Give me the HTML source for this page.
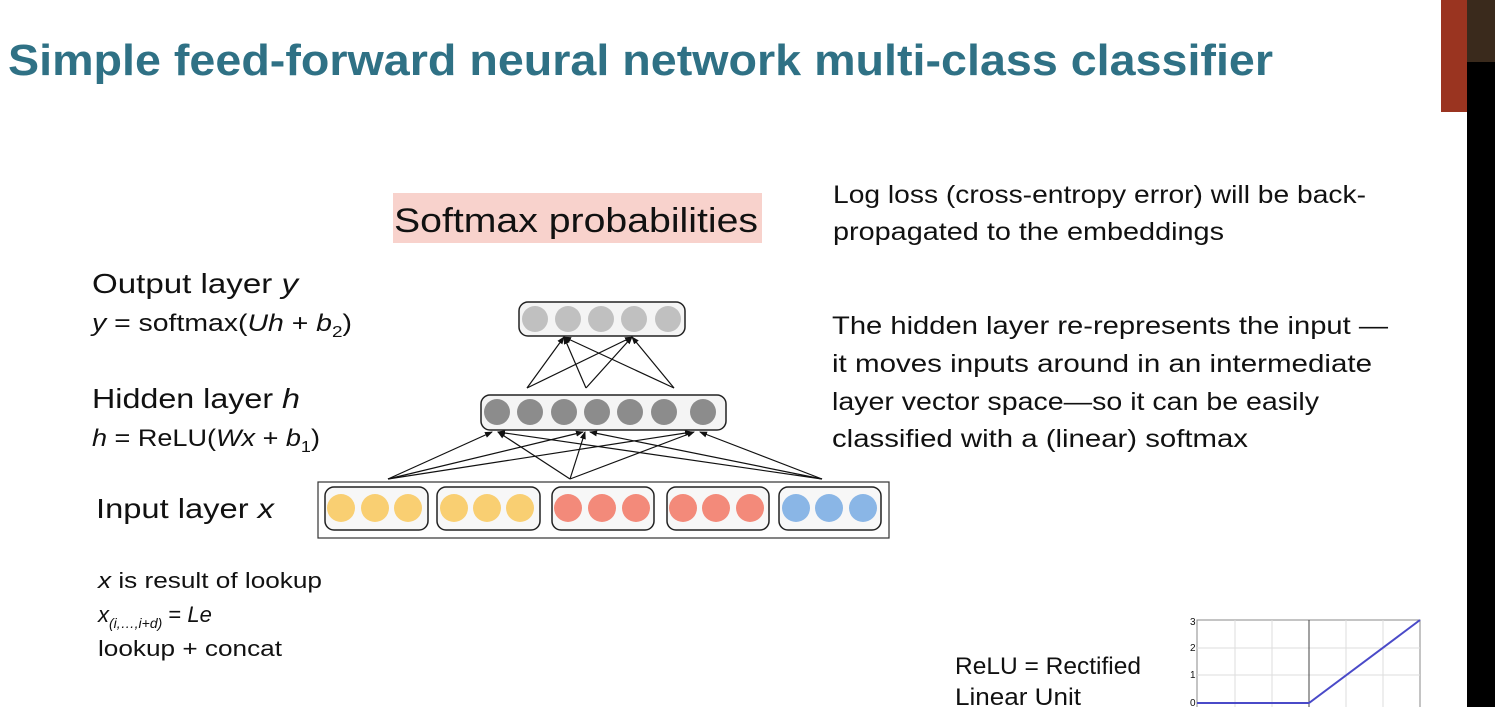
<!DOCTYPE html>
<html><head><meta charset="utf-8"><style>
html,body{margin:0;padding:0;background:#fff;width:1495px;height:707px;overflow:hidden}
svg{display:block}
text{font-family:"Liberation Sans","DejaVu Sans",sans-serif;fill:#111}
</style></head><body>
<svg width="1495" height="707" viewBox="0 0 1495 707" xmlns="http://www.w3.org/2000/svg">
<defs>
<marker id="ah" markerWidth="8" markerHeight="8" refX="7" refY="4" orient="auto" markerUnits="userSpaceOnUse">
<path d="M0,1 L8,4 L0,7 Z" fill="#111"/></marker>
</defs>
<rect x="1441" y="0" width="26" height="112" fill="#9a3420"/>
<rect x="1467" y="0" width="28" height="707" fill="#000"/>
<rect x="1467" y="0" width="28" height="62" fill="#3a2a1c"/>

<text x="8" y="75" font-size="44" font-weight="bold" style="fill:#2f7185" textLength="1265" lengthAdjust="spacingAndGlyphs">Simple feed-forward neural network multi-class classifier</text>

<rect x="393" y="193" width="369" height="50" fill="#f8d2cc"/>
<text x="394" y="232" font-size="34" textLength="364" lengthAdjust="spacingAndGlyphs">Softmax probabilities</text>

<g font-size="25">
<text x="833" y="203" textLength="533" lengthAdjust="spacingAndGlyphs">Log loss (cross-entropy error) will be back-</text>
<text x="833" y="240" textLength="391" lengthAdjust="spacingAndGlyphs">propagated to the embeddings</text>
<text x="832" y="334" textLength="556" lengthAdjust="spacingAndGlyphs">The hidden layer re-represents the input —</text>
<text x="832" y="372" textLength="540" lengthAdjust="spacingAndGlyphs">it moves inputs around in an intermediate</text>
<text x="832" y="410" textLength="487" lengthAdjust="spacingAndGlyphs">layer vector space—so it can be easily</text>
<text x="832" y="447" textLength="416" lengthAdjust="spacingAndGlyphs">classified with a (linear) softmax</text>
</g>

<text x="92" y="293" font-size="28" textLength="206" lengthAdjust="spacingAndGlyphs">Output layer <tspan font-style="italic">y</tspan></text>
<text x="92" y="331" font-size="24" textLength="260" lengthAdjust="spacingAndGlyphs"><tspan font-style="italic">y</tspan> = softmax(<tspan font-style="italic">Uh</tspan> + <tspan font-style="italic">b</tspan><tspan font-size="16" dy="6">2</tspan><tspan dy="-6">)</tspan></text>
<text x="92" y="408" font-size="28" textLength="208" lengthAdjust="spacingAndGlyphs">Hidden layer <tspan font-style="italic">h</tspan></text>
<text x="92" y="446" font-size="24" textLength="228" lengthAdjust="spacingAndGlyphs"><tspan font-style="italic">h</tspan> = ReLU(<tspan font-style="italic">Wx</tspan> + <tspan font-style="italic">b</tspan><tspan font-size="16" dy="6">1</tspan><tspan dy="-6">)</tspan></text>
<text x="96" y="518" font-size="28" textLength="178" lengthAdjust="spacingAndGlyphs">Input layer <tspan font-style="italic">x</tspan></text>

<text x="98" y="588" font-size="22" textLength="224" lengthAdjust="spacingAndGlyphs"><tspan font-style="italic">x</tspan> is result of lookup</text>
<text x="98" y="622" font-size="22"><tspan font-style="italic">x</tspan><tspan font-size="14" font-style="italic" dy="6">(i,…,i+d)</tspan><tspan dy="-6"> = </tspan><tspan font-style="italic">Le</tspan></text>
<text x="98" y="656" font-size="22" textLength="184" lengthAdjust="spacingAndGlyphs">lookup + concat</text>

<text x="955" y="674" font-size="24" textLength="186" lengthAdjust="spacingAndGlyphs">ReLU = Rectified</text>
<text x="955" y="705" font-size="24" textLength="126" lengthAdjust="spacingAndGlyphs">Linear Unit</text>

<g>
<rect x="1197" y="620" width="223" height="100" fill="#fff" stroke="#888" stroke-width="1"/>
<g stroke="#ddd" stroke-width="1">
<line x1="1197" y1="648" x2="1420" y2="648"/><line x1="1197" y1="675" x2="1420" y2="675"/>
<line x1="1235" y1="620" x2="1235" y2="707"/><line x1="1272" y1="620" x2="1272" y2="707"/>
<line x1="1346" y1="620" x2="1346" y2="707"/><line x1="1383" y1="620" x2="1383" y2="707"/>
</g>
<line x1="1309" y1="620" x2="1309" y2="707" stroke="#444" stroke-width="1"/>
<polyline points="1197,703 1309,703 1420,620" fill="none" stroke="#4a4ac8" stroke-width="2"/>
<g font-size="10" font-family="Liberation Serif,serif">
<text x="1190" y="625">3</text><text x="1190" y="651">2</text><text x="1190" y="678">1</text><text x="1190" y="706">0</text>
</g>
</g>

<g stroke="#111" stroke-width="1.2" marker-end="url(#ah)">
<line x1="527" y1="388" x2="564" y2="337"/><line x1="527" y1="388" x2="632" y2="337"/>
<line x1="586" y1="388" x2="564" y2="337"/><line x1="586" y1="388" x2="632" y2="337"/>
<line x1="674" y1="388" x2="564" y2="337"/><line x1="674" y1="388" x2="632" y2="337"/>
<line x1="388" y1="479" x2="492" y2="432"/><line x1="388" y1="479" x2="583" y2="432"/><line x1="388" y1="479" x2="692" y2="432"/>
<line x1="570" y1="479" x2="498" y2="432"/><line x1="570" y1="479" x2="585" y2="432"/><line x1="570" y1="479" x2="694" y2="432"/>
<line x1="822" y1="479" x2="498" y2="432"/><line x1="822" y1="479" x2="590" y2="432"/><line x1="822" y1="479" x2="700" y2="432"/>
</g>

<rect x="519" y="302" width="166" height="34" rx="9" fill="#f4f4f4" stroke="#222" stroke-width="1.5"/>
<g fill="#c0c0c0"><circle cx="535" cy="319" r="13"/><circle cx="568" cy="319" r="13"/><circle cx="601" cy="319" r="13"/><circle cx="634" cy="319" r="13"/><circle cx="668" cy="319" r="13"/></g>

<rect x="481" y="395" width="245" height="35" rx="9" fill="#f4f4f4" stroke="#222" stroke-width="1.5"/>
<g fill="#8c8c8c"><circle cx="497" cy="412" r="13"/><circle cx="530" cy="412" r="13"/><circle cx="564" cy="412" r="13"/><circle cx="597" cy="412" r="13"/><circle cx="630" cy="412" r="13"/><circle cx="664" cy="412" r="13"/><circle cx="703" cy="412" r="13"/></g>

<rect x="318" y="482" width="571" height="56" fill="#fff" stroke="#333" stroke-width="1.2"/>
<g fill="#f7f7f7" stroke="#222" stroke-width="1.5">
<rect x="325" y="487" width="103" height="43" rx="9"/><rect x="437" y="487" width="103" height="43" rx="9"/>
<rect x="552" y="487" width="102" height="43" rx="9"/><rect x="667" y="487" width="102" height="43" rx="9"/>
<rect x="779" y="487" width="102" height="43" rx="9"/>
</g>
<g fill="#f9cf72"><circle cx="341" cy="508" r="14"/><circle cx="375" cy="508" r="14"/><circle cx="408" cy="508" r="14"/><circle cx="454" cy="508" r="14"/><circle cx="487" cy="508" r="14"/><circle cx="520" cy="508" r="14"/></g>
<g fill="#f38a7a"><circle cx="568" cy="508" r="14"/><circle cx="602" cy="508" r="14"/><circle cx="636" cy="508" r="14"/><circle cx="683" cy="508" r="14"/><circle cx="716" cy="508" r="14"/><circle cx="750" cy="508" r="14"/></g>
<g fill="#8ab6e6"><circle cx="796" cy="508" r="14"/><circle cx="829" cy="508" r="14"/><circle cx="863" cy="508" r="14"/></g>
</svg>
</body></html>
